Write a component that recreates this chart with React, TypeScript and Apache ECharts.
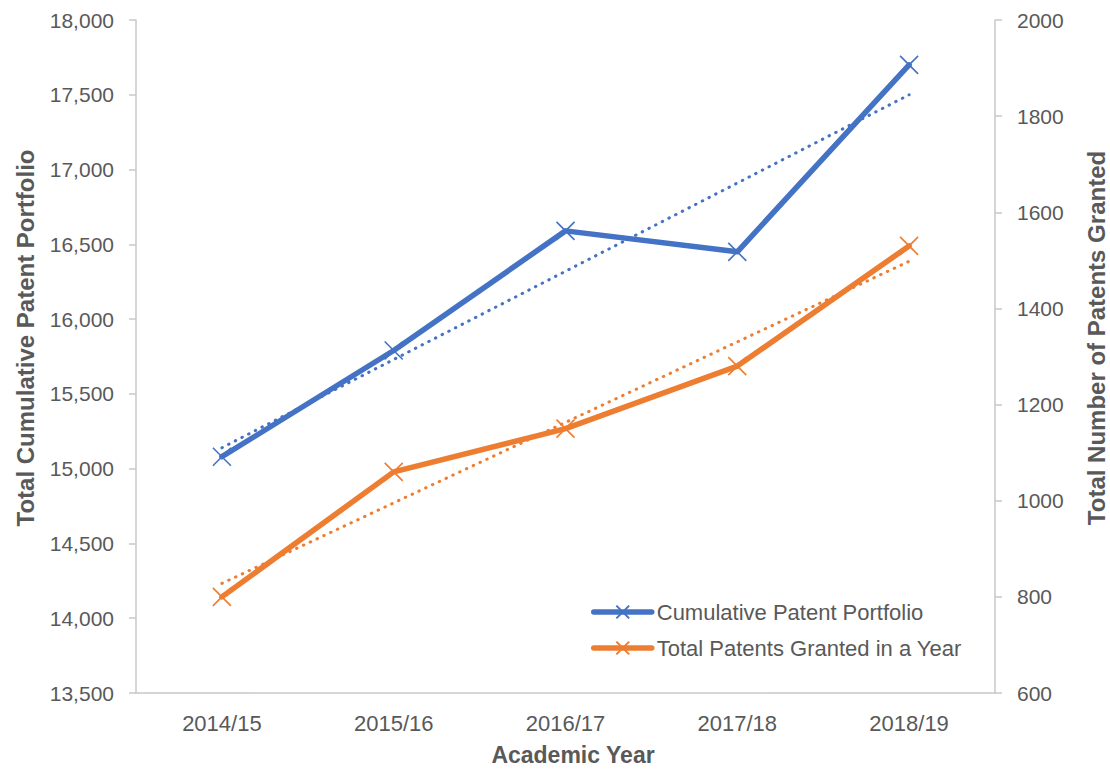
import React, { useEffect, useRef } from "react";
import * as echarts from "echarts";

const categories = ["2014/15", "2015/16", "2016/17", "2017/18", "2018/19"];
const cumulativePortfolio = [15080, 15790, 16590, 16450, 17700];
const grantedPerYear = [800, 1060, 1150, 1280, 1530];
// dotted linear trend lines, end points
const cumulativeTrend = [15140, null, null, null, 17500];
const grantedTrend = [828, null, null, null, 1498];

const leftMin = 13500, leftMax = 18000, leftStep = 500;
const rightMin = 600, rightMax = 2000, rightStep = 200;

const BLUE = "#4472C4";
const ORANGE = "#ED7D31";
const TEXT = "#595959";
const AXIS = "#C8C8C8";
const FONT = "'Liberation Sans', Arial, sans-serif";
const X_SYMBOL = "path://M0,0L10,10M10,0L0,10";

export default function App() {
  const ref = useRef<HTMLDivElement>(null);
  useEffect(() => {
    document.body.style.margin = "0";
    const chart = echarts.init(ref.current!, null, { renderer: "svg" });
    const mainSeries = (name: string, data: number[], color: string, yAxisIndex: number) => ({
      name,
      type: "line",
      yAxisIndex,
      data,
      z: 3,
      symbol: X_SYMBOL,
      symbolSize: 18,
      showAllSymbol: true,
      lineStyle: { color, width: 5.5, cap: "round", join: "round" },
      itemStyle: { color, borderColor: color, borderWidth: 1.6 },
      emphasis: { disabled: true },
      silent: true,
    });
    const trendSeries = (name: string, data: (number | null)[], color: string, yAxisIndex: number) => ({
      name,
      type: "line",
      yAxisIndex,
      data,
      z: 2,
      connectNulls: true,
      symbol: "none",
      lineStyle: { color, width: 3, type: [0.5, 7], cap: "round" },
      emphasis: { disabled: true },
      silent: true,
    });
    chart.setOption({
      animation: false,
      textStyle: { fontFamily: FONT },
      grid: { left: 136, right: 115, top: 20, bottom: 76, containLabel: false },
      legend: {
        data: ["Cumulative Patent Portfolio", "Total Patents Granted in a Year"],
        orient: "vertical",
        left: 586,
        top: 596,
        itemWidth: 58,
        itemHeight: 16,
        itemGap: 14,
        selectedMode: false,
        lineStyle: { width: 5.5 },
        textStyle: { color: TEXT, fontSize: 22, fontFamily: FONT },
      },
      xAxis: {
        type: "category",
        data: categories,
        boundaryGap: true,
        axisLine: { show: true, lineStyle: { color: AXIS, width: 1.5 } },
        axisTick: { show: false },
        axisLabel: { color: TEXT, fontSize: 22, margin: 19, fontFamily: FONT },
        splitLine: { show: false },
      },
      yAxis: [
        {
          type: "value",
          min: leftMin,
          max: leftMax,
          interval: leftStep,
          position: "left",
          axisLine: { show: true, lineStyle: { color: AXIS, width: 1.5 } },
          axisTick: { show: true, inside: false, length: 7, lineStyle: { color: AXIS, width: 1.5 } },
          axisLabel: {
            color: TEXT,
            fontSize: 21,
            margin: 22,
            fontFamily: FONT,
            formatter: (v: number) => v.toLocaleString("en-US"),
          },
          splitLine: { show: false },
        },
        {
          type: "value",
          min: rightMin,
          max: rightMax,
          interval: rightStep,
          position: "right",
          axisLine: { show: true, lineStyle: { color: AXIS, width: 1.5 } },
          axisTick: { show: true, inside: false, length: 7, lineStyle: { color: AXIS, width: 1.5 } },
          axisLabel: {
            color: TEXT,
            fontSize: 21,
            margin: 22,
            fontFamily: FONT,
            formatter: (v: number) => String(v),
          },
          splitLine: { show: false },
        },
      ],
      graphic: [
        {
          type: "text",
          x: 25,
          y: 338,
          rotation: Math.PI / 2,
          style: {
            text: "Total Cumulative Patent Portfolio",
            font: `bold 24px ${FONT}`,
            fill: TEXT,
            align: "center",
            verticalAlign: "middle",
          },
        },
        {
          type: "text",
          x: 1096,
          y: 338,
          rotation: Math.PI / 2,
          style: {
            text: "Total Number of Patents Granted",
            font: `bold 24px ${FONT}`,
            fill: TEXT,
            align: "center",
            verticalAlign: "middle",
          },
        },
        {
          type: "text",
          x: 573,
          y: 755,
          style: {
            text: "Academic Year",
            font: `bold 23px ${FONT}`,
            fill: TEXT,
            align: "center",
            verticalAlign: "middle",
          },
        },
      ],
      series: [
        trendSeries("Cumulative trend", cumulativeTrend, BLUE, 0),
        trendSeries("Granted trend", grantedTrend, ORANGE, 1),
        mainSeries("Cumulative Patent Portfolio", cumulativePortfolio, BLUE, 0),
        mainSeries("Total Patents Granted in a Year", grantedPerYear, ORANGE, 1),
      ],
    });
    return () => chart.dispose();
  }, []);
  return <div ref={ref} style={{ width: 1110, height: 769 }} />;
}
